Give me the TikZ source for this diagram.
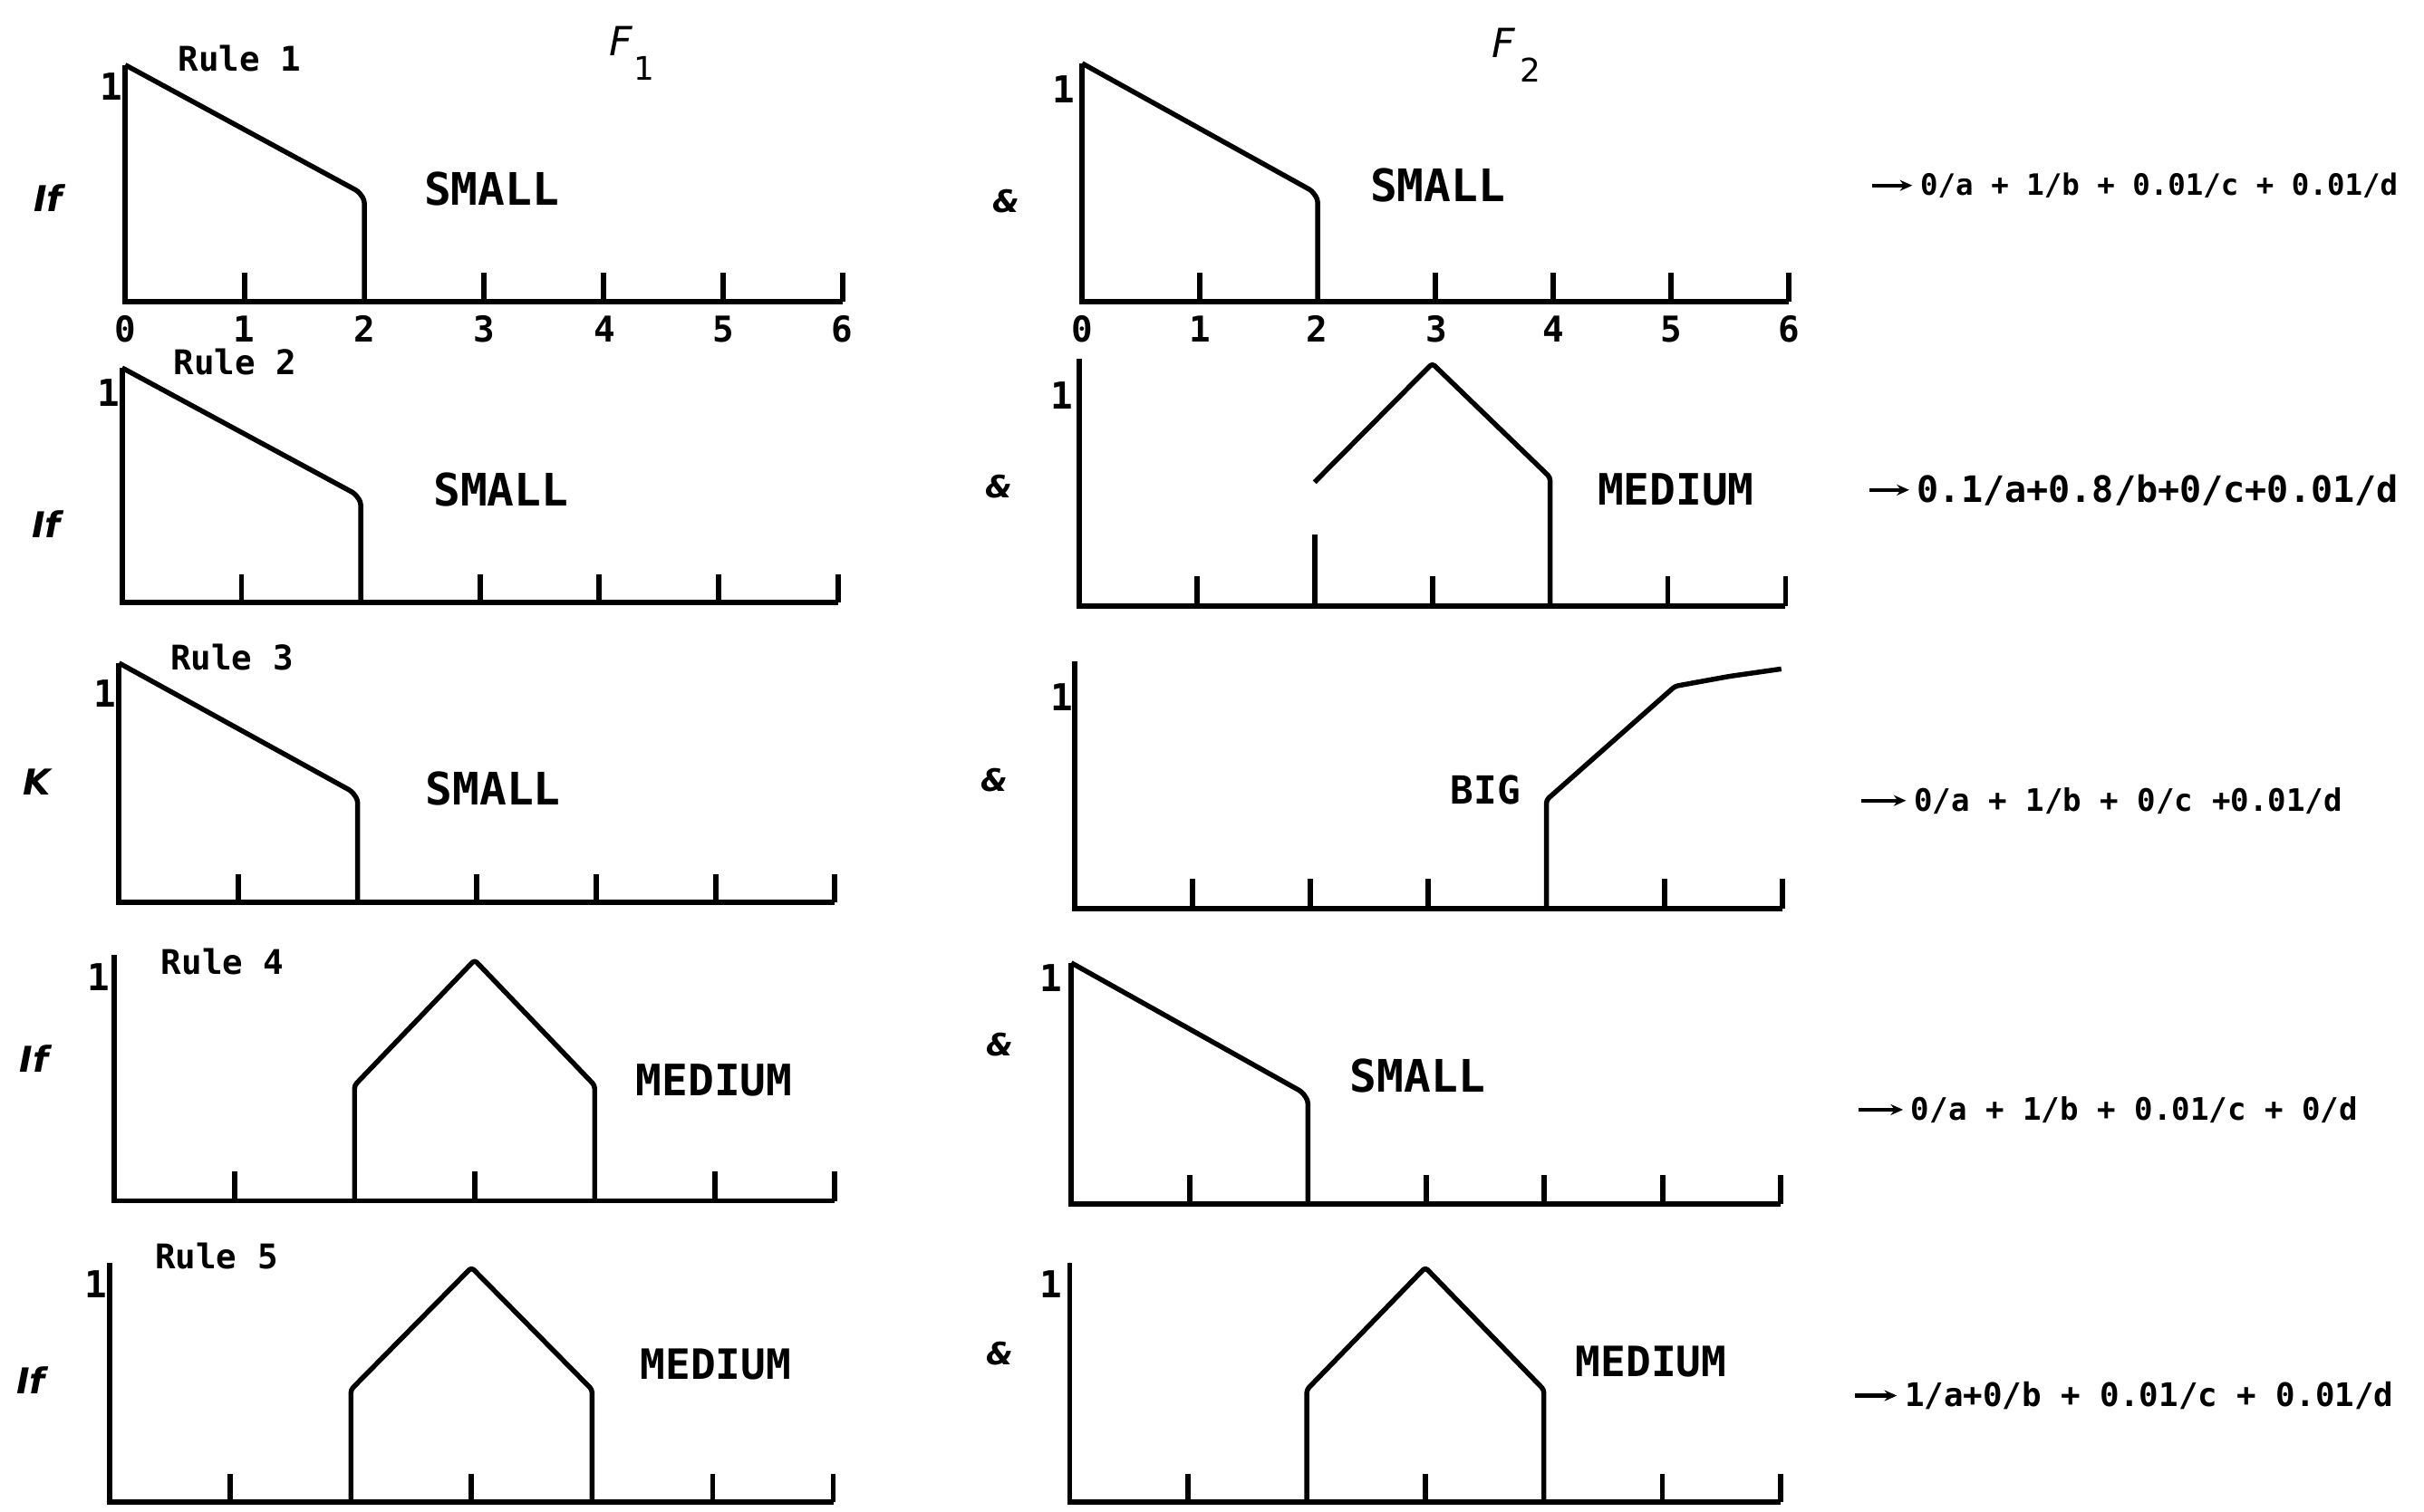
\documentclass[tikz,border=0pt]{standalone}
\usepackage{fontspec}
\setmainfont{DejaVu Sans Mono}
\newfontfamily\lblfont{DejaVu Sans}
\usetikzlibrary{arrows.meta}
\newcommand{\fsz}[1]{\fontsize{#1}{#1}\selectfont}
% panel: #1 x0, #2 x6, #3 baseline y, #4 top y, #5 contents (units: 0..6 by 0..1)
\newcommand{\mfpanel}[5]{%
  \pgfmathsetmacro{\pux}{(#2-#1)/6}%
  \pgfmathsetmacro{\puy}{#3-#4}%
  \begin{scope}[shift={(#1,#3)}, x=\pux pt, y=\puy pt]
    \draw[ax] (0,1) -- (0,0) -- (6,0);
    #5
  \end{scope}}
\newcommand{\mfticks}[1]{\foreach \k in {#1} {\draw[ax] (\k,0) -- (\k,0.12);}}
\newcommand{\smallcurve}{\draw[crv] (0,1) -- (1.95,0.465) -- (2,0.43) -- (2,0);}
\newcommand{\medcurve}{\draw[crv] (2,0) -- (2,0.47) -- (3,0.98) -- (4,0.47) -- (4,0);}
\begin{document}
\begin{tikzpicture}[x=1pt,y=-1pt,
  ax/.style={line width=3.4pt},
  crv/.style={line width=3.2pt, line join=round, rounded corners=2pt},
  txt/.style={inner sep=0pt, anchor=center},
  rulelbl/.style={txt, font=\bfseries\fsz{22}},
  onelbl/.style={txt, font=\bfseries\fsz{24}},
  iflbl/.style={txt, font=\lblfont\bfseries\itshape\fsz{23}},
  andlbl/.style={txt, font=\lblfont\bfseries\itshape\fsz{20}},
  setlbl/.style={txt, font=\bfseries\fsz{29}},
  ticklbl/.style={txt, font=\bfseries\fsz{23}},
  flbl/.style={inner sep=0pt, anchor=base west, font=\lblfont\itshape\fsz{26}},
  eqn/.style={inner sep=0pt, anchor=west},
  arr/.style={line width=2.6pt, -{Stealth[length=8pt,width=7pt]}}]
\useasboundingbox (0,0) rectangle (1568,978);
\clip (0,0) rectangle (1568,978);
\fill[white] (0,0) rectangle (1568,978);

% ---------------- column F1 ----------------
\mfpanel{81}{545}{195}{42}{\smallcurve \mfticks{1,3,4,5,6}}
\mfpanel{79}{542}{390}{238}{\smallcurve \mfticks{1,3,4,5,6}}
\mfpanel{77}{540}{584}{429}{\smallcurve \mfticks{1,3,4,5,6}}
\mfpanel{74}{540}{777}{618}{\medcurve \mfticks{1,3,5,6}}
\mfpanel{71}{539}{972}{817}{\medcurve \mfticks{1,3,5,6}}

% ---------------- column F2 ----------------
\mfpanel{700}{1157}{195}{41}{\smallcurve \mfticks{1,3,4,5,6}}
\mfpanel{698}{1155}{392}{232}{%
  \draw[crv] (2,0.50) -- (3,0.98) -- (4,0.52) -- (4,0);
  \draw[ax] (2,0) -- (2,0.29);
  \mfticks{1,3,5,6}}
\mfpanel{695}{1153}{588}{428}{%
  \draw[crv] (4,0) -- (4,0.44) -- (5.09,0.90) -- (5.55,0.94) -- (5.99,0.97);
  \mfticks{1,2,3,5,6}}
\mfpanel{693}{1152}{779}{623}{\smallcurve \mfticks{1,3,4,5,6}}
\mfpanel{692}{1152}{972}{817}{\medcurve \mfticks{1,3,5,6}}

% ---------------- titles ----------------
\node[flbl] (F1) at (394,36) {F\hspace{1pt}\raisebox{-16pt}{\upshape\fsz{21}1}};
\node[flbl] (F2) at (965,37) {F\hspace{3pt}\raisebox{-16pt}{\upshape\fsz{21}2}};

% ---------------- rule labels ----------------
\node[rulelbl] (rule1) at (155,38) {Rule 1};
\node[rulelbl] (rule2) at (152,234) {Rule 2};
\node[rulelbl] (rule3) at (150,425) {Rule 3};
\node[rulelbl] (rule4) at (144,622) {Rule 4};
\node[rulelbl] (rule5) at (140,813) {Rule 5};

% ---------------- "1" labels ----------------
\node[onelbl] (oneA1) at (72,56) {1};
\node[onelbl] (oneA2) at (70,254) {1};
\node[onelbl] (oneA3) at (68,449) {1};
\node[onelbl] (oneA4) at (64,632) {1};
\node[onelbl] (oneA5) at (62,831) {1};
\node[onelbl] (oneB1) at (688,58) {1};
\node[onelbl] (oneB2) at (687,256) {1};
\node[onelbl] (oneB3) at (687,451) {1};
\node[onelbl] (oneB4) at (680,633) {1};
\node[onelbl] (oneB5) at (680,831) {1};

% ---------------- If / & ----------------
\node[iflbl] (if1) at (31,128) {If};
\node[iflbl] (if2) at (30,339) {If};
\node[iflbl] (if3) at (24,506) {K};
\node[iflbl] (if4) at (22,685) {If};
\node[iflbl] (if5) at (20,893) {If};
\node[andlbl] (and1) at (651,130) {\&};
\node[andlbl] (and2) at (646,315) {\&};
\node[andlbl] (and3) at (643,505) {\&};
\node[andlbl] (and4) at (647,676) {\&};
\node[andlbl] (and5) at (647,876) {\&};

% ---------------- set names ----------------
\node[setlbl] (sA1) at (318,122) {SMALL};
\node[setlbl] (sA2) at (324,317) {SMALL};
\node[setlbl] (sA3) at (319,510) {SMALL};
\node[setlbl,font=\bfseries\fsz{28}] (sA4) at (462,699) {MEDIUM};
\node[setlbl,font=\bfseries\fsz{27}] (sA5) at (463,883) {MEDIUM};
\node[setlbl] (sB1) at (930,120) {SMALL};
\node[setlbl,font=\bfseries\fsz{28}] (sB2) at (1084,317) {MEDIUM};
\node[setlbl,font=\bfseries\fsz{25}] (sB3) at (961,511) {BIG};
\node[setlbl] (sB4) at (917,696) {SMALL};
\node[setlbl,font=\bfseries\fsz{27}] (sB5) at (1068,881) {MEDIUM};

% ---------------- tick numbers ----------------
\foreach \k/\xx in {0/81,1/158,2/236,3/313,4/391,5/468,6/545}
  \node[ticklbl] (tA\k) at (\xx,213) {\k};
\foreach \k/\xx in {0/700,1/776,2/852,3/929,4/1005,5/1081,6/1157}
  \node[ticklbl] (tB\k) at (\xx,213) {\k};

% ---------------- results ----------------
\node[eqn,font=\bfseries\fsz{19}] (eq1) at (1242,120) {0/a + 1/b + 0.01/c + 0.01/d};
\node[eqn,font=\bfseries\fsz{23.5}] (eq2) at (1240,317) {0.1/a+0.8/b+0/c+0.01/d};
\node[eqn,font=\bfseries\fsz{20}] (eq3) at (1238,518) {0/a + 1/b + 0/c +0.01/d};
\node[eqn,font=\bfseries\fsz{20}] (eq4) at (1236,718) {0/a + 1/b + 0.01/c + 0/d};
\node[eqn,font=\bfseries\fsz{21}] (eq5) at (1232,903) {1/a+0/b + 0.01/c + 0.01/d};
\coordinate (ar1) at (1211,120);
\coordinate (ar2) at (1209,317);
\coordinate (ar3) at (1204,518);
\coordinate (ar4) at (1202,718);
\coordinate (ar5) at (1200,903);
\foreach \i in {1,...,5} \draw[arr] (ar\i) -- ([xshift=-5pt]eq\i.west);
\end{tikzpicture}
\end{document}
